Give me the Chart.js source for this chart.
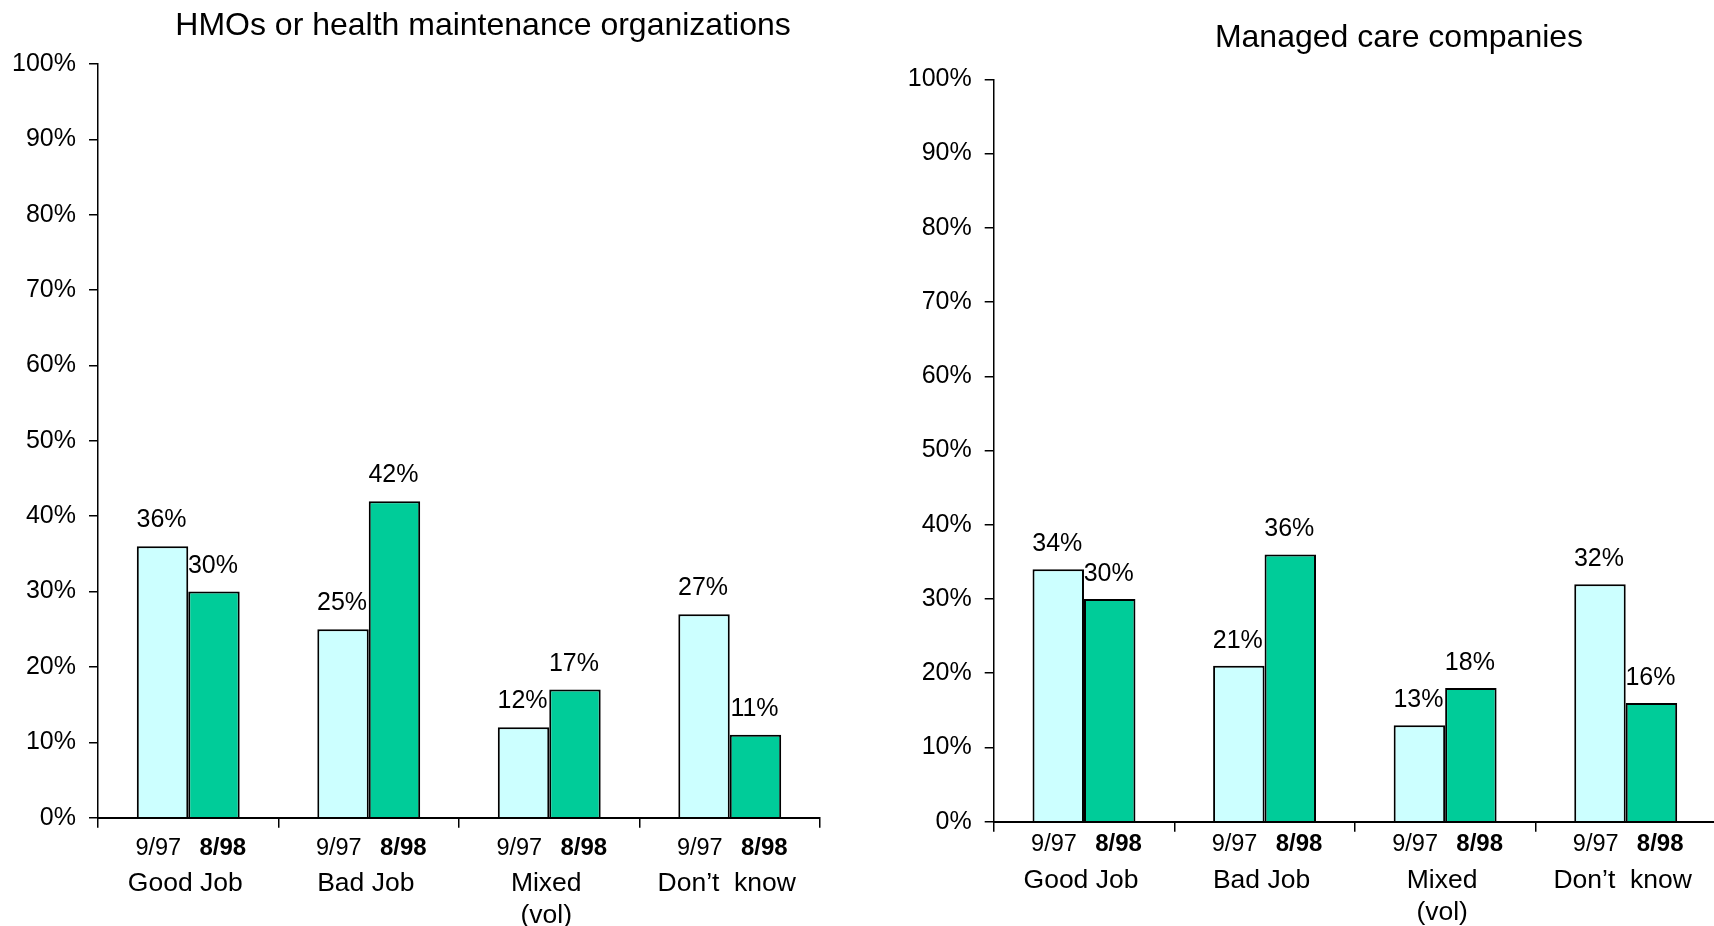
<!DOCTYPE html>
<html>
<head>
<meta charset="utf-8">
<script src="https://cdn.jsdelivr.net/npm/chart.js@4/dist/chart.umd.min.js"></script>
<style>
  html, body { margin: 0; padding: 0; background: #fff; overflow: hidden; width: 1714px; height: 926px; }
  canvas { position: absolute; top: 0; }
  #left { left: 0; }
  #right { left: 860px; }
</style>
</head>
<body>
<canvas id="left" width="860" height="926"></canvas>
<canvas id="right" width="880" height="926"></canvas>
<script>
// ---- data ----
const categories = [['Good Job'], ['Bad Job'], ['Mixed', '(vol)'], ['Don\u2019t  know']];
const periods = ['9/97', '8/98'];
const hmo_9_97 = [36, 25, 12, 27];
const hmo_8_98 = [30, 42, 17, 11];
const mcc_9_97 = [34, 21, 13, 32];
const mcc_8_98 = [30, 36, 18, 16];
const titles = ['HMOs or health maintenance organizations', 'Managed care companies'];
const yTickValues = [0, 10, 20, 30, 40, 50, 60, 70, 80, 90, 100];

const FONT = "'Liberation Sans', Arial, Helvetica, sans-serif";
const LIGHT = '#CCFFFF';
const GREEN = '#00CC99';

const annotate = {
  id: 'annotate',
  afterDraw(chart, args, opts) {
    const ctx = chart.ctx;
    const xs = chart.scales.x;
    const area = chart.chartArea;
    ctx.save();
    ctx.fillStyle = '#000';
    // title
    ctx.font = `32px ${FONT}`;
    ctx.textAlign = 'center';
    ctx.textBaseline = 'alphabetic';
    ctx.fillText(opts.title, opts.titleX, opts.titleY);
    // period sub-labels under each group
    categories.forEach((c, i) => {
      const cx = xs.getPixelForValue(i);
      ctx.font = `23.5px ${FONT}`;
      ctx.fillText(periods[0], cx - 30, area.bottom + opts.subY);
      ctx.font = `bold 24px ${FONT}`;
      ctx.fillText(periods[1], cx + 34.5, area.bottom + opts.subY);
    });
    // value labels above bars
    ctx.font = `25px ${FONT}`;
    chart.data.datasets.forEach((ds, di) => {
      const meta = chart.getDatasetMeta(di);
      meta.data.forEach((bar, i) => {
        ctx.fillText(ds.data[i] + '%', bar.x - 1, bar.y - opts.labelGap);
      });
    });
    ctx.restore();
  }
};

function makeChart(id, a, b, cfg) {
  return new Chart(document.getElementById(id), {
    type: 'bar',
    data: {
      labels: categories,
      datasets: [
        { label: periods[0], data: a, backgroundColor: LIGHT, borderColor: '#000', borderWidth: 2 },
        { label: periods[1], data: b, backgroundColor: GREEN, borderColor: '#000', borderWidth: 2 }
      ]
    },
    options: {
      responsive: false,
      animation: false,
      devicePixelRatio: 1,
      categoryPercentage: 0.57,
      barPercentage: 1.0,
      layout: { padding: { left: 0, right: cfg.padRight, top: cfg.top, bottom: 0 } },
      plugins: {
        legend: { display: false },
        tooltip: { enabled: false },
        title: { display: false },
        annotate: { title: cfg.title, titleX: cfg.titleX, titleY: cfg.titleY, subY: cfg.subY, labelGap: cfg.labelGap }
      },
      scales: {
        x: {
          grid: { offset: true, drawOnChartArea: false, drawTicks: true, tickLength: 10, color: '#000', lineWidth: 1.5 },
          border: { display: true, color: '#000', width: 2 },
          ticks: { color: '#000', font: { family: FONT, size: 26.5, lineHeight: 1.2 }, padding: cfg.catPad, labelOffset: -3, maxRotation: 0, autoSkip: false },
          afterFit(s) { s.height = cfg.xHeight; s.paddingLeft = 0; s.paddingRight = 0; }
        },
        y: {
          min: 0, max: 100,
          afterBuildTicks(s) { s.ticks = yTickValues.map(v => ({ value: v })); },
          grid: { drawOnChartArea: false, drawTicks: true, tickLength: 9, color: '#000', lineWidth: 1.5 },
          border: { display: true, color: '#000', width: 1.5 },
          ticks: { color: '#000', font: { family: FONT, size: 25 }, padding: 13, callback: v => v + '%' },
          afterFit(s) { s.width = cfg.yWidth; }
        }
      }
    },
    plugins: [annotate]
  });
}

makeChart('left', hmo_9_97, hmo_8_98, {
  title: titles[0], titleX: 483, titleY: 34.5,
  padRight: 40, top: 64, xHeight: 926 - 817.7, yWidth: 98,
  catPad: 40, subY: 37.3, labelGap: 19
});
makeChart('right', mcc_9_97, mcc_8_98, {
  title: titles[1], titleX: 539, titleY: 47,
  padRight: 24, top: 79.3, xHeight: 926 - 821.7, yWidth: 133.7,
  catPad: 33, subY: 29.3, labelGap: 18
});
</script>
</body>
</html>
